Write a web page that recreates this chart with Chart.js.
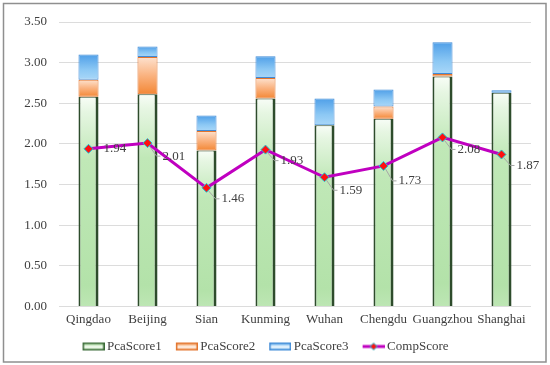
<!DOCTYPE html>
<html>
<head>
<meta charset="utf-8">
<script src="https://cdn.jsdelivr.net/npm/chart.js@4.4.1/dist/chart.umd.min.js"></script>
<style>
  html, body { margin: 0; padding: 0; background: #fff; }
  #wrap { width: 550px; height: 365px; position: relative; }
</style>
</head>
<body>
<div id="wrap"><canvas id="chart"></canvas></div>
<script>
const cities = ['Qingdao', 'Beijing', 'Sian', 'Kunming', 'Wuhan', 'Chengdu', 'Guangzhou', 'Shanghai'];
const pcaScore1 = [2.58, 2.61, 1.92, 2.56, 2.23, 2.31, 2.83, 2.63];
const pcaScore2 = [0.21, 0.46, 0.24, 0.25, -0.02, 0.15, 0.03, -0.02];
const pcaScore3 = [0.31, 0.13, 0.19, 0.27, 0.33, 0.21, 0.39, 0.03];
const compScore = [1.94, 2.01, 1.46, 1.93, 1.59, 1.73, 2.08, 1.87];
const seriesNames = ['PcaScore1', 'PcaScore2', 'PcaScore3', 'CompScore'];

const FONT = 'Liberation Serif, Times New Roman, serif';
const TEXT = '#404040';
const stacks = [pcaScore1, pcaScore2, pcaScore3];

// colour stops for each stacked series, top of bar -> bottom of bar
const fills = [
    [[0, '#f8fdf7'], [0.07, '#e6f6e2'], [0.3, '#c0e8b7'], [0.9, '#b3e2a9'], [1, '#bde6b4']],
    [[0, '#fde2cf'], [0.5, '#fab27f'], [1, '#f38735']],
    [[0, '#4f9fe8'], [0.6, '#8cc8f4'], [1, '#a9d7f8']],
];
const borders = ['#2e4c2c', '#e2752e', '#3f8ad6'];

const segRange = (d, i) => {
    const v = stacks[d][i];
    let base = 0;
    for (let k = 0; k < d; k++) {
        const w = stacks[k][i];
        if ((w >= 0) === (v >= 0)) base += w;
    }
    return [base, base + v];
};

const barFill = (d) => (ctx) => {
    const chart = ctx.chart;
    const y = chart.scales.y;
    const stops = fills[d];
    if (!chart.chartArea || !y || ctx.type !== 'data') return stops[stops.length - 1][1];
    const [b, t] = segRange(d, ctx.dataIndex);
    const top = y.getPixelForValue(Math.max(b, t));
    const bot = y.getPixelForValue(Math.min(b, t));
    const g = chart.ctx.createLinearGradient(0, top, 0, bot + 0.01);
    stops.forEach(s => g.addColorStop(s[0], s[1]));
    return g;
};

// little canvases used as legend icons
const makeIcon = (draw) => {
    const c = document.createElement('canvas');
    c.width = 26;
    c.height = 12;
    draw(c.getContext('2d'));
    return c;
};
const boxIcon = (d) => makeIcon(g => {
    const grad = g.createLinearGradient(0, 3, 0, 10);
    const mid = d === 0 ? '#f6fcf4' : d === 1 ? '#fff3ea' : '#eef7fe';
    const edge = d === 0 ? '#a9dc9e' : d === 1 ? '#f6a466' : '#7fbff2';
    grad.addColorStop(0, edge);
    grad.addColorStop(0.5, mid);
    grad.addColorStop(1, edge);
    g.fillStyle = grad;
    g.fillRect(4, 3, 22, 6);
    g.strokeStyle = d === 0 ? '#3b6a38' : borders[d];
    g.lineWidth = 1.5;
    g.strokeRect(4.75, 2.75, 20.5, 6.5);
});
const lineIcon = makeIcon(g => {
    g.strokeStyle = '#c000c0';
    g.lineWidth = 3;
    g.beginPath();
    g.moveTo(4, 6);
    g.lineTo(26, 6);
    g.stroke();
    g.fillStyle = '#ff1010';
    g.strokeStyle = '#18c8d8';
    g.lineWidth = 1;
    g.beginPath();
    g.moveTo(15, 2.5);
    g.lineTo(18.5, 6);
    g.lineTo(15, 9.5);
    g.lineTo(11.5, 6);
    g.closePath();
    g.fill();
    g.stroke();
});
const legendIcons = [boxIcon(0), boxIcon(1), boxIcon(2), lineIcon];

const frame = {
    id: 'frame',
    beforeDraw(chart) {
        const c = chart.ctx;
        c.save();
        c.fillStyle = '#ffffff';
        c.fillRect(0, 0, chart.width, chart.height);
        c.restore();
    },
    afterDraw(chart) {
        const c = chart.ctx;
        c.save();
        c.strokeStyle = '#8f8f8f';
        c.lineWidth = 1.5;
        c.strokeRect(3.5, 3.5, chart.width - 7.5, chart.height - 6.5);
        c.restore();
    },
};

// value labels for CompScore with a grey leader line
const compLabels = {
    id: 'compLabels',
    afterDatasetsDraw(chart, args, opts) {
        const meta = chart.getDatasetMeta(3);
        const c = chart.ctx;
        c.save();
        c.font = '13px ' + FONT;
        c.fillStyle = TEXT;
        c.textBaseline = 'middle';
        c.textAlign = 'left';
        meta.data.forEach((pt, i) => {
            const dy = opts.shift[i];
            const x = pt.x, y = pt.y;
            if (dy > 4) {
                c.strokeStyle = '#a6a6a6';
                c.lineWidth = 1;
                c.beginPath();
                c.moveTo(x + 2, y + 3);
                c.lineTo(x + 9, y + dy);
                c.lineTo(x + 13, y + dy);
                c.stroke();
            }
            c.fillText(compScore[i].toFixed(2), x + 15, y + dy);
        });
        c.restore();
    },
};

const barSet = (d) => ({
    type: 'bar',
    label: seriesNames[d],
    data: stacks[d],
    backgroundColor: barFill(d),
    borderColor: borders[d],
    borderWidth: d === 0 ? { left: 2, right: 3, top: 1, bottom: 0 } : 1,
    borderSkipped: false,
    barPercentage: 0.34,
    categoryPercentage: 1,
    stack: 's',
    order: 1,
});

new Chart(document.getElementById('chart'), {
    data: {
        labels: cities,
        datasets: [
            barSet(0),
            barSet(1),
            barSet(2),
            {
                type: 'line',
                label: seriesNames[3],
                data: compScore,
                borderColor: '#c000c0',
                borderWidth: 3,
                pointStyle: 'rectRot',
                pointRadius: 4.5,
                pointBackgroundColor: '#ff1010',
                pointBorderColor: '#18c8d8',
                pointBorderWidth: 1,
                tension: 0,
                order: 0,
            },
        ],
    },
    options: {
        responsive: true,
        maintainAspectRatio: false,
        animation: false,
        layout: { padding: { top: 22, right: 19, bottom: 2, left: 0 } },
        scales: {
            x: {
                stacked: true,
                grid: { display: false, drawTicks: false },
                border: { display: false },
                ticks: {
                    color: TEXT,
                    font: { family: FONT, size: 13 },
                    padding: 5,
                    maxRotation: 0,
                    minRotation: 0,
                    autoSkip: false,
                },
                afterFit(s) { s.height = 19.5; },
            },
            y: {
                stacked: true,
                min: 0,
                max: 3.5,
                grid: { color: '#dcdcdc', drawTicks: false },
                border: { display: false },
                ticks: {
                    stepSize: 0.5,
                    color: TEXT,
                    font: { family: FONT, size: 13 },
                    padding: 12,
                    callback: v => v.toFixed(2),
                },
                afterFit(s) { s.width = 59; },
            },
        },
        plugins: {
            tooltip: { enabled: false },
            compLabels: { shift: [0, 13, 11, 11, 13, 15, 12, 11] },
            legend: {
                position: 'bottom',
                maxHeight: 40.5,
                labels: {
                    usePointStyle: true,
                    pointStyleWidth: 18,
                    padding: 14,
                    color: TEXT,
                    font: { family: FONT, size: 13 },
                    generateLabels: () => seriesNames.map((n, i) => ({
                        text: n,
                        pointStyle: legendIcons[i],
                        datasetIndex: i,
                        hidden: false,
                        fontColor: TEXT,
                        lineWidth: 0,
                    })),
                },
            },
        },
    },
    plugins: [frame, compLabels],
});
</script>
</body>
</html>
